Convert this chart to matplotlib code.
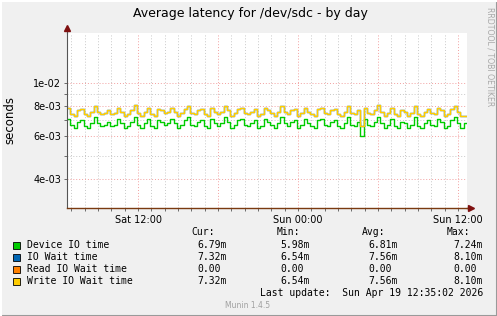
import numpy as np
import matplotlib
matplotlib.use('Agg')
import matplotlib.pyplot as plt
import matplotlib.dates as mdates
import matplotlib.ticker as mticker
from matplotlib.patches import Rectangle
from datetime import datetime, timedelta

# ---- data (ms, 15 min steps)
device_io = [
    7.1, 6.7, 6.5, 6.9,  7.0, 6.6, 6.5, 6.8,  7.2, 6.8, 6.6, 6.7,
    6.9, 6.6, 6.7, 7.1,  6.8, 6.5, 6.6, 6.9,  7.2, 6.7, 6.5, 6.8,
    7.1, 6.6, 6.5, 7.0,  6.9, 6.7, 6.8, 7.1,  6.8, 6.5, 6.7, 7.0,
    7.2, 6.7, 6.6, 6.9,  7.0, 6.6, 6.5, 7.1,  6.8, 6.6, 6.8, 7.2,
    6.9, 6.5, 6.7, 7.0,  7.1, 6.7, 6.6, 6.8,  7.0, 6.5, 6.6, 7.1,
    6.9, 6.7, 6.5, 6.8,  7.2, 6.8, 6.6, 6.9,  7.0, 6.5, 6.7, 7.1,
    6.8, 6.6, 6.5, 7.0,  7.1, 6.7, 6.6, 6.9,  7.0, 6.6, 6.5, 6.8,
    7.2, 6.7, 6.6, 6.9,  6.0, 7.1, 6.7, 6.6,  6.9, 7.2, 6.8, 6.5,
    6.7, 7.1, 6.6, 6.5,  6.9, 6.8, 6.5, 6.7,  7.2, 6.6, 6.5, 6.8,
    7.0, 6.7, 6.6, 7.1,  6.9, 6.5, 6.6, 7.0,  7.2, 6.8, 6.5, 6.8,
]
write_wait = [
    7.9, 7.4, 7.3, 7.7,  7.8, 7.4, 7.3, 7.6,  8.0, 7.6, 7.4, 7.5,
    7.7, 7.4, 7.5, 7.9,  7.6, 7.3, 7.4, 7.7,  8.1, 7.5, 7.3, 7.6,
    7.9, 7.4, 7.3, 7.8,  7.7, 7.5, 7.6, 7.9,  7.6, 7.3, 7.5, 7.8,
    8.0, 7.5, 7.4, 7.7,  7.8, 7.4, 7.3, 7.9,  7.6, 7.4, 7.6, 8.0,
    7.7, 7.3, 7.5, 7.8,  7.9, 7.5, 7.4, 7.6,  7.8, 7.3, 7.4, 7.9,
    7.7, 7.5, 7.3, 7.6,  8.0, 7.6, 7.4, 7.7,  7.8, 7.3, 7.5, 7.9,
    7.6, 7.4, 7.3, 7.8,  7.9, 7.5, 7.4, 7.7,  7.8, 7.4, 7.3, 7.6,
    8.0, 7.5, 7.4, 7.7,  6.6, 7.9, 7.5, 7.4,  7.7, 8.1, 7.6, 7.3,
    7.5, 7.9, 7.4, 7.3,  7.7, 7.6, 7.3, 7.5,  8.0, 7.4, 7.3, 7.6,
    7.8, 7.5, 7.4, 7.9,  7.7, 7.3, 7.4, 7.8,  8.0, 7.6, 7.3, 7.3,
]
io_wait = write_wait            # identical to write wait in the picture
read_wait = [0.0] * len(write_wait)

labels = ["Device IO time", "IO Wait time", "Read IO Wait time", "Write IO Wait time"]
colors = ["#00cc00", "#0066b3", "#ff8000", "#ffcc00"]
cur = ["6.79m", "7.32m", "0.00", "7.32m"]
mins = ["5.98m", "6.54m", "0.00", "6.54m"]
avgs = ["6.81m", "7.56m", "0.00", "7.56m"]
maxs = ["7.24m", "8.10m", "0.00", "8.10m"]
yticks_major = [4e-3, 6e-3, 8e-3, 1e-2]
yticks_minor = [3e-3, 5e-3, 7e-3, 9e-3]

start = datetime(2026, 4, 18, 6, 40)
end = datetime(2026, 4, 19, 12, 40)
times = [start + timedelta(minutes=15 * i) for i in range(len(device_io))] + [end]

W, H = 497, 316
fig = plt.figure(figsize=(W / 100, H / 100), dpi=100, facecolor='#f0f0f0')
ax = fig.add_axes([67 / W, 1 - 208 / H, 400 / W, 175 / H])
ax.set_facecolor('white')

def px(x, y):
    return x / W, 1 - y / H

series = [device_io, io_wait, read_wait, write_wait]
for vals, c in zip(series, colors):
    v = np.array(vals + [vals[-1]]) * 1e-3
    ax.plot(times, v, drawstyle='steps-post', color=c, lw=1.0)

ax.set_yscale('log', nonpositive='mask')
ax.set_ylim(3.03e-3, 1.61e-2)
ax.set_xlim(start, end)

ax.yaxis.set_major_locator(mticker.FixedLocator(yticks_major))
ax.yaxis.set_minor_locator(mticker.FixedLocator(yticks_minor))
ax.yaxis.set_major_formatter(mticker.FuncFormatter(lambda v, p: '%.0e' % v))
ax.yaxis.set_minor_formatter(mticker.NullFormatter())

ax.xaxis.set_major_locator(mdates.HourLocator(byhour=[0, 6, 12, 18]))
ax.xaxis.set_minor_locator(mdates.HourLocator())
ax.xaxis.set_major_formatter(mticker.FuncFormatter(
    lambda v, p: mdates.num2date(v).strftime('%a %H:%M') if mdates.num2date(v).hour in (0, 12) else ''))

ax.grid(which='major', color='#f2a0a0', ls=(0, (1, 2)), lw=0.7)
ax.grid(which='minor', color='#c8c8c8', ls=(0, (1, 2)), lw=0.7)
ax.tick_params(which='both', length=2, width=0.6, color='#555555', labelsize=7, pad=2)
ax.tick_params(axis='x', which='major', pad=3)

for s in ['top', 'right']:
    ax.spines[s].set_visible(False)
ax.spines['left'].set_color('#555555')
ax.spines['bottom'].set_color('#7a3a10')
ax.spines['left'].set_linewidth(0.8)
ax.spines['bottom'].set_linewidth(1.0)
# axis arrows
ax.plot([0, 0], [1, 1.025], transform=ax.transAxes, color='#555555', lw=0.8, clip_on=False)
ax.plot([0], [1.03], marker='^', ms=4, color='#7f1010', transform=ax.transAxes, clip_on=False)
ax.plot([1, 1.006], [0, 0], transform=ax.transAxes, color='#7a3a10', lw=1.0, clip_on=False)
ax.plot([1.01], [0], marker='>', ms=4, color='#7f1010', transform=ax.transAxes, clip_on=False)

ax.set_ylabel('seconds', fontsize=8.5, labelpad=12)

fig.text(*px(250, 13), 'Average latency for /dev/sdc - by day', ha='center', va='center', fontsize=9)
fig.text(*px(490, 57), 'RRDTOOL / TOBI OETIKER', rotation=270, ha='center', va='center',
         fontsize=5.6, color='#a8a8a8')

mono = 'DejaVu Sans Mono'
fs = 7
heads = ["Cur:", "Min:", "Avg:", "Max:"]
head_x = [191, 277, 362, 447]
col_x = [197, 280, 368, 453]
for h, x in zip(heads, head_x):
    fig.text(*px(x, 232), h, family=mono, fontsize=fs, va='center')
rows_y = [245, 257, 269, 281]
for i, y in enumerate(rows_y):
    fig.patches.append(Rectangle(px(13, y + 3.5), 7 / W, 7 / H, transform=fig.transFigure,
                                 facecolor=colors[i], edgecolor='black', lw=0.6))
    fig.text(*px(27, y), labels[i], family=mono, fontsize=fs, va='center')
    for vals, x in zip([cur, mins, avgs, maxs], col_x):
        fig.text(*px(x, y), vals[i], family=mono, fontsize=fs, va='center')
fig.text(*px(483, 293), 'Last update:  Sun Apr 19 12:35:02 2026', family=mono, fontsize=fs,
         ha='right', va='center')
fig.text(*px(248, 305), 'Munin 1.4.5', fontsize=5.5, color='#a0a0a0', ha='center', va='center')

# frame shading like rrdtool
fig.add_artist(plt.Line2D([0, 1], [0.5 / H, 0.5 / H], color='#9a9a9a', lw=1.5, transform=fig.transFigure))
fig.add_artist(plt.Line2D([1 - 0.5 / W, 1 - 0.5 / W], [0, 1], color='#9a9a9a', lw=1.5, transform=fig.transFigure))
fig.add_artist(plt.Line2D([0, 1], [1 - 0.5 / H, 1 - 0.5 / H], color='#ffffff', lw=1.5, transform=fig.transFigure))
fig.add_artist(plt.Line2D([0.5 / W, 0.5 / W], [0, 1], color='#ffffff', lw=1.5, transform=fig.transFigure))

fig.savefig('out.png', dpi=100, facecolor=fig.get_facecolor())
